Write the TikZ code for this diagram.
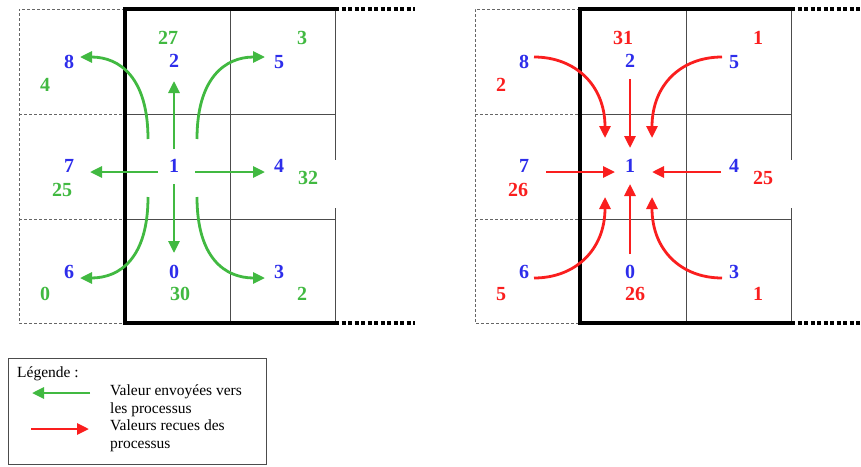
\documentclass[tikz,border=0pt]{standalone}
\usepackage{fontspec}
\setmainfont{Liberation Serif}
\usetikzlibrary{arrows.meta}
\definecolor{pblue}{RGB}{45,45,235}
\definecolor{pgreen}{RGB}{65,185,65}
\definecolor{pred}{RGB}{250,30,30}
\begin{document}
\begin{tikzpicture}[x=1pt,y=-1pt,
  num/.style={font=\fontsize{20}{20}\selectfont\bfseries, inner sep=0pt},
  bnum/.style={num, text=pblue},
  gnum/.style={num, text=pgreen},
  rnum/.style={num, text=pred},
  gridthin/.style={draw=black!70, line width=0.8pt},
  griddash/.style={draw=black!60, line width=0.7pt, dash pattern=on 3pt off 2pt},
  thickb/.style={draw=black, line width=3.5pt},
  dotb/.style={draw=black, line width=3.5pt, dash pattern=on 4pt off 2.5pt},
  garrow/.style={draw=pgreen, line width=2.8pt, -{Triangle[length=12pt,width=11pt]}},
  rarrow/.style={draw=pred, line width=2.8pt, -{Triangle[length=12pt,width=11pt]}},
  legtext/.style={font=\fontsize{15.5}{18}\selectfont, inner sep=0pt, align=left}]
\useasboundingbox (0,0) rectangle (861,466);

% ---------------- left grid ----------------
\draw[gridthin] (125,114) -- (335,114) (125,219) -- (335,219) (230,9) -- (230,323)
  (335,9) -- (335,160) (335,208) -- (335,323);
\draw[griddash] (125,9) -- (19,9) -- (19,323) -- (125,323) (19,114) -- (125,114) (19,219) -- (125,219);
\draw[thickb] (335,9) -- (125,9) -- (125,323) -- (335,323);
\draw[dotb] (335,9) -- (415,9) (335,323) -- (415,323);

\node[gnum] (lg27) at (168,38) {27};
\node[bnum] (lb2) at (174,61) {2};
\node[bnum] (lb8) at (69,62) {8};
\node[gnum] (lg4) at (45,85) {4};
\node[bnum] (lb5) at (279,62) {5};
\node[gnum] (lg3) at (302,38) {3};
\node[bnum] (lb7) at (69,166) {7};
\node[gnum] (lg25) at (62,190) {25};
\node[bnum] (lb1) at (174,166) {1};
\node[bnum] (lb4) at (279,166) {4};
\node[gnum] (lg32) at (308,178) {32};
\node[bnum] (lb6) at (69,272) {6};
\node[gnum] (lg0) at (45,294) {0};
\node[bnum] (lb0) at (174,272) {0};
\node[gnum] (lg30) at (180,294) {30};
\node[bnum] (lb3) at (279,272) {3};
\node[gnum] (lg2) at (302,294) {2};

\coordinate (gU1) at (174,149); \coordinate (gU2) at (174,81);
\coordinate (gD1) at (174,184); \coordinate (gD2) at (174,253);
\coordinate (gL1) at (158,172); \coordinate (gL2) at (90,172);
\coordinate (gR1) at (195,172); \coordinate (gR2) at (265,172);
\coordinate (g8a) at (148,139); \coordinate (g8b) at (80,57);
\coordinate (g5a) at (197,139); \coordinate (g5b) at (265,57);
\coordinate (g6a) at (148,197); \coordinate (g6b) at (80,278);
\coordinate (g3a) at (197,197); \coordinate (g3b) at (265,278);

\draw[garrow] (gU1) -- (gU2);
\draw[garrow] (gD1) -- (gD2);
\draw[garrow] (gL1) -- (gL2);
\draw[garrow] (gR1) -- (gR2);
\draw[garrow] (g8a) .. controls (148,78) and (120,57) .. (g8b);
\draw[garrow] (g5a) .. controls (197,78) and (225,57) .. (g5b);
\draw[garrow] (g6a) .. controls (148,258) and (120,278) .. (g6b);
\draw[garrow] (g3a) .. controls (197,258) and (225,278) .. (g3b);

% ---------------- right grid ----------------
\draw[gridthin] (580,114) -- (791,114) (580,219) -- (791,219) (686,9) -- (686,323)
  (791,9) -- (791,160) (791,208) -- (791,323);
\draw[griddash] (580,9) -- (475,9) -- (475,323) -- (580,323) (475,114) -- (580,114) (475,219) -- (580,219);
\draw[thickb] (791,9) -- (580,9) -- (580,323) -- (791,323);
\draw[dotb] (791,9) -- (861,9) (791,323) -- (861,323);

\node[rnum] (rr31) at (623,38) {31};
\node[bnum] (rb2) at (630,61) {2};
\node[bnum] (rb8) at (524,62) {8};
\node[rnum] (rr2) at (501,85) {2};
\node[bnum] (rb5) at (734,62) {5};
\node[rnum] (rr1a) at (758,38) {1};
\node[bnum] (rb7) at (524,166) {7};
\node[rnum] (rr26a) at (518,190) {26};
\node[bnum] (rb1) at (630,166) {1};
\node[bnum] (rb4) at (734,166) {4};
\node[rnum] (rr25) at (763,178) {25};
\node[bnum] (rb6) at (524,272) {6};
\node[rnum] (rr5) at (501,294) {5};
\node[bnum] (rb0) at (630,272) {0};
\node[rnum] (rr26b) at (635,294) {26};
\node[bnum] (rb3) at (734,272) {3};
\node[rnum] (rr1b) at (758,294) {1};

\coordinate (rD1) at (630,79);  \coordinate (rD2) at (630,148);
\coordinate (rU1) at (630,254); \coordinate (rU2) at (630,184);
\coordinate (rR1) at (546,172); \coordinate (rR2) at (615,172);
\coordinate (rL1) at (721,172); \coordinate (rL2) at (652,172);
\coordinate (r8a) at (534,57);  \coordinate (r8b) at (605,138);
\coordinate (r5a) at (722,57);  \coordinate (r5b) at (652,138);
\coordinate (r6a) at (534,278); \coordinate (r6b) at (605,197);
\coordinate (r3a) at (722,278); \coordinate (r3b) at (652,197);

\draw[rarrow] (rD1) -- (rD2);
\draw[rarrow] (rU1) -- (rU2);
\draw[rarrow] (rR1) -- (rR2);
\draw[rarrow] (rL1) -- (rL2);
\draw[rarrow] (r8a) .. controls (575,57) and (605,85) .. (r8b);
\draw[rarrow] (r5a) .. controls (681,57) and (652,85) .. (r5b);
\draw[rarrow] (r6a) .. controls (575,278) and (605,250) .. (r6b);
\draw[rarrow] (r3a) .. controls (681,278) and (652,250) .. (r3b);

% ---------------- legend ----------------
\draw[draw=black!70, line width=0.8pt] (8,358) rectangle (266,464);
\node[legtext, anchor=west] (leg) at (17,374) {Légende :};
\coordinate (lgA) at (90,393); \coordinate (lgB) at (32,393);
\coordinate (lrA) at (31,429); \coordinate (lrB) at (89,429);
\draw[garrow] (lgA) -- (lgB);
\draw[rarrow] (lrA) -- (lrB);
\node[legtext, anchor=north west] (legg) at (110,385) {Valeur envoyées vers\\les processus};
\node[legtext, anchor=north west] (legr) at (110,420) {Valeurs recues des\\processus};
\end{tikzpicture}
\end{document}
